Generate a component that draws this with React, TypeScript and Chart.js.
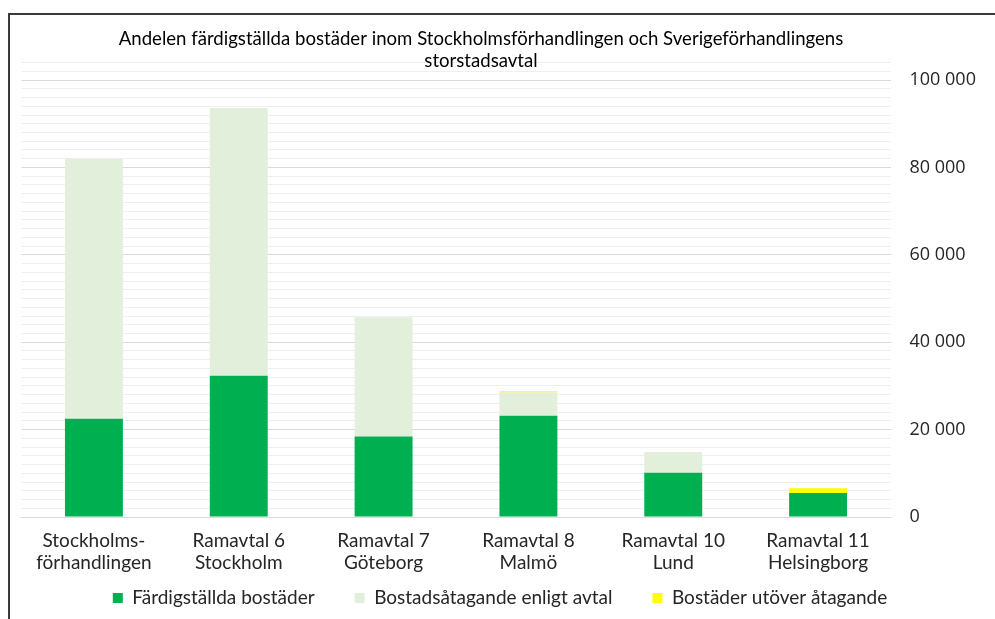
import React, { useEffect, useRef } from "react";
import { Chart, registerables } from "chart.js";

Chart.register(...registerables);

// ---- data ----
const categories: string[][] = [
  ["Stockholms-", "förhandlingen"],
  ["Ramavtal 6", "Stockholm"],
  ["Ramavtal 7", "Göteborg"],
  ["Ramavtal 8", "Malmö"],
  ["Ramavtal 10", "Lund"],
  ["Ramavtal 11", "Helsingborg"],
];
const completedHomes = [22500, 32300, 18400, 23200, 10100, 5500];
const committedHomes = [59500, 61300, 27300, 5300, 4800, 0];
const extraHomes = [0, 0, 0, 300, 0, 1100];
const seriesNames = [
  "Färdigställda bostäder",
  "Bostadsåtagande enligt avtal",
  "Bostäder utöver åtagande",
];
const titleLines = [
  "Andelen färdigställda bostäder inom Stockholmsförhandlingen och Sverigeförhandlingens",
  "storstadsavtal",
];
const yMin = 0;
const yMax = 104000;
const yGridStep = 2000;
const yLabelStep = 20000;

// ---- styles ----
const LABEL_FONT = "Lato, 'Liberation Sans', sans-serif";
const TICK_FONT = "'Open Sans', 'Liberation Sans', sans-serif";
const TEXT = "#262626";

const titlePlugin = {
  id: "excelTitle",
  afterDraw(chart: any) {
    const ctx = chart.ctx;
    const ca = chart.chartArea;
    ctx.save();
    ctx.font = `18.6px ${LABEL_FONT}`;
    ctx.fillStyle = "#000";
    ctx.textAlign = "center";
    ctx.textBaseline = "middle";
    const cx = (ca.left + ca.right) / 2 + 25;
    titleLines.forEach((line, i) => ctx.fillText(line, cx, ca.top - 24 + i * 22));
    ctx.restore();
  },
};

// the legend sits closer to the axis labels than Chart.js' symmetric padding allows
const legendShiftPlugin = {
  id: "legendShift",
  afterLayout(chart: any) {
    const lg = chart.legend;
    if (lg) {
      lg.top -= 38.5;
      lg.bottom -= 38.5;
    }
  },
};

export default function App() {
  const ref = useRef<HTMLCanvasElement | null>(null);

  useEffect(() => {
    if (!ref.current) return;
    const chart = new Chart(ref.current, {
      type: "bar",
      data: {
        labels: categories,
        datasets: [
          { label: seriesNames[0], data: completedHomes, backgroundColor: "#00B050", borderWidth: 0 },
          { label: seriesNames[1], data: committedHomes, backgroundColor: "#E2EFDA", borderWidth: 0 },
          { label: seriesNames[2], data: extraHomes, backgroundColor: "#FFFF00", borderWidth: 0 },
        ],
      },
      options: {
        animation: false,
        responsive: true,
        maintainAspectRatio: false,
        datasets: { bar: { barPercentage: 0.4, categoryPercentage: 1.0 } },
        layout: { padding: { left: 21.5, right: 16.5, top: 62.6, bottom: -37 } },
        plugins: {
          title: { display: false },
          tooltip: { enabled: false },
          legend: {
            position: "bottom",
            labels: {
              boxWidth: 10,
              boxHeight: 10,
              padding: 40,
              color: TEXT,
              font: { family: LABEL_FONT, size: 19 },
            },
          },
        },
        scales: {
          x: {
            stacked: true,
            grid: { display: false, drawTicks: false },
            border: { display: true, color: "#d9d9d9", width: 1 },
            ticks: {
              color: TEXT,
              padding: 13,
              maxRotation: 0,
              autoSkip: false,
              font: { family: LABEL_FONT, size: 19, lineHeight: 22 / 19 },
            },
          },
          y: {
            stacked: true,
            position: "right",
            min: yMin,
            max: yMax,
            border: { display: false },
            grid: {
              drawTicks: false,
              color: (c: any) =>
                c.tick && c.tick.value % yLabelStep === 0 ? "#d9d9d9" : "#efefef",
              lineWidth: 1,
            },
            ticks: {
              stepSize: yGridStep,
              autoSkip: false,
              padding: 19,
              color: TEXT,
              font: { family: TICK_FONT, size: 18 },
              callback: (v: any) =>
                Number(v) % yLabelStep === 0 && Number(v) <= 100000
                  ? Number(v).toLocaleString("sv-SE").replace(/\u00a0/g, " ")
                  : "",
            },
            afterFit: (scale: any) => {
              scale.width = 88;
            },
          },
        },
      },
      plugins: [titlePlugin, legendShiftPlugin],
    });
    return () => chart.destroy();
  }, []);

  return (
    <div style={{ position: "fixed", left: 0, top: 0, width: 995, height: 619, background: "#fff", overflow: "hidden" }}>
      <div
        style={{
          position: "absolute",
          left: 8,
          top: 13,
          width: 995,
          height: 620,
          borderTop: "2px solid #3a3a3a",
          borderLeft: "2px solid #3a3a3a",
        }}
      />
      <div style={{ position: "absolute", left: 0, top: 0, width: 995, height: 619 }}>
        <canvas ref={ref} />
      </div>
    </div>
  );
}
